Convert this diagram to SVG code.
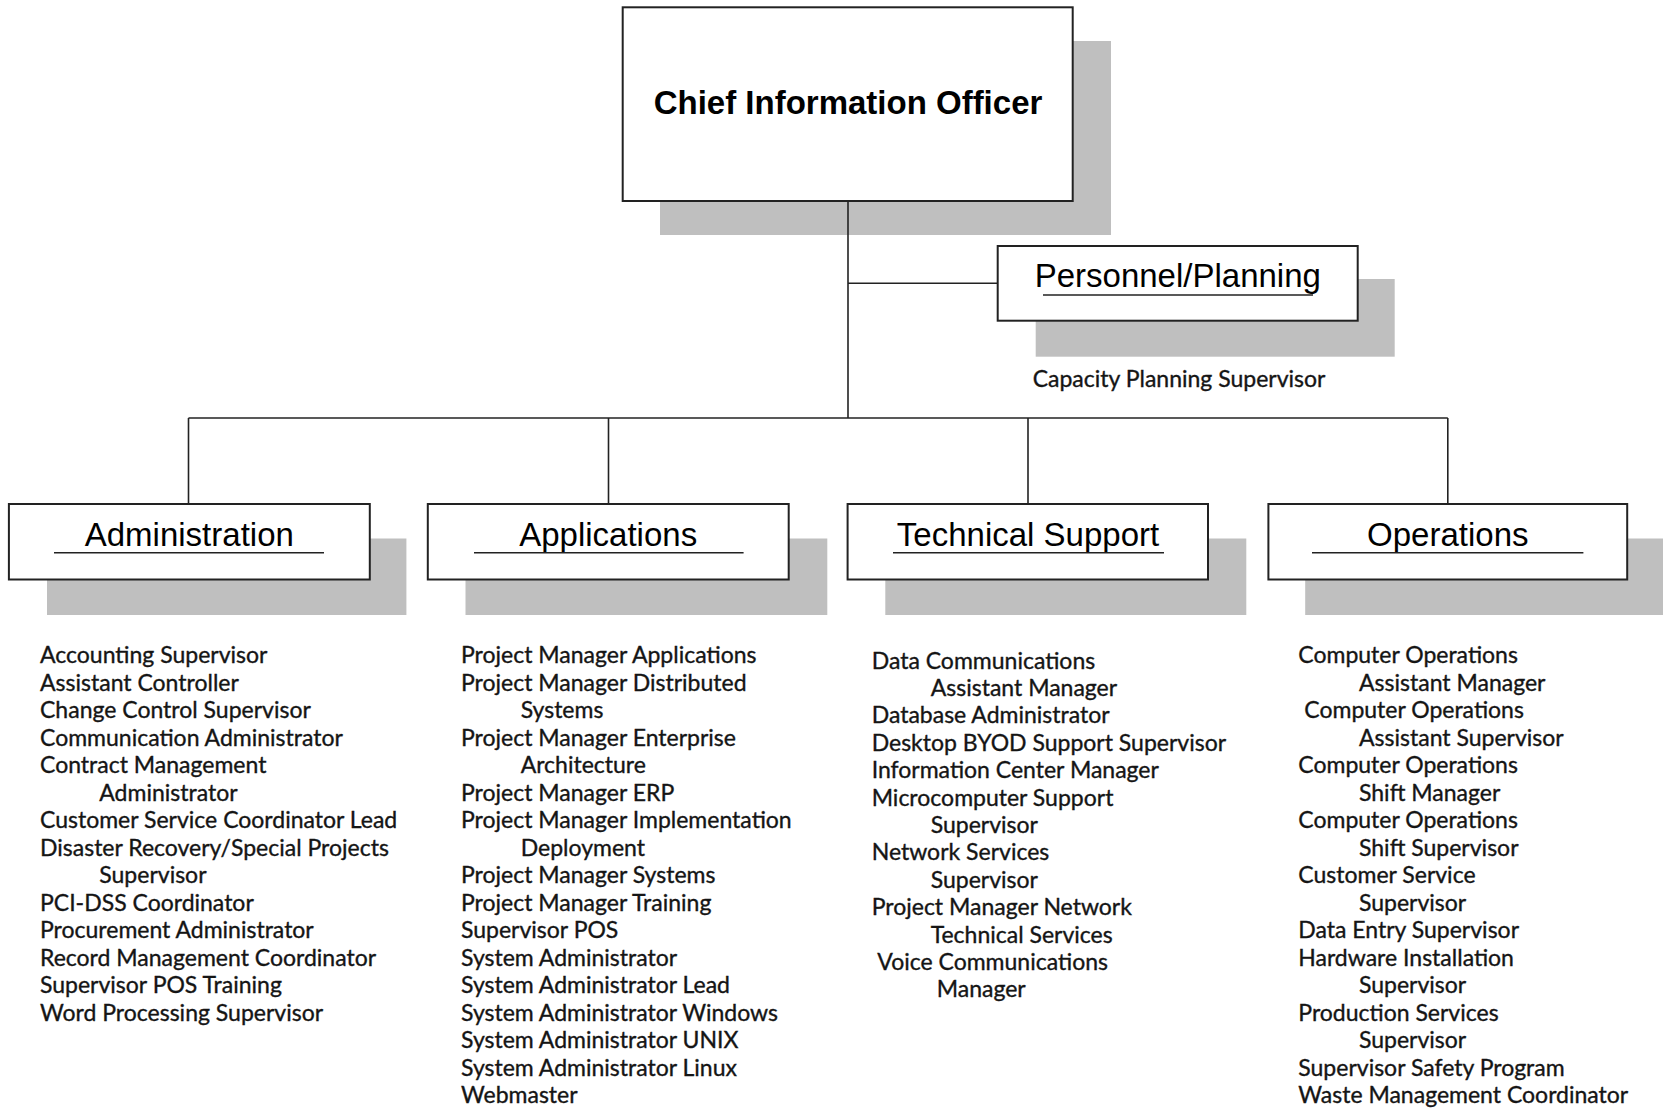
<svg xmlns="http://www.w3.org/2000/svg" width="1663" height="1109" viewBox="0 0 1663 1109">
<style>
.shadow{fill:#bfbfbf;stroke:none}
.box{fill:#ffffff;stroke:#222222;stroke-width:2}
.conn{stroke:#222222;stroke-width:1.6;fill:none}
.ul{stroke:#222222;stroke-width:1.6}
.title{font-family:"Liberation Sans",Arial,sans-serif;font-size:33px;fill:#000000;text-anchor:middle}
.cio{font-family:"Liberation Sans",Arial,sans-serif;font-size:33px;font-weight:bold;fill:#000000;text-anchor:middle}
.list{font-family:Lato,"Liberation Sans",sans-serif;font-size:23px;fill:#151515;stroke:#151515;stroke-width:0.35}
</style>
<rect width="1663" height="1109" fill="#ffffff"/>
<g id="cio">
<rect class="shadow" x="660" y="41" width="451" height="194"/>
<rect class="box" x="622.7" y="7.3" width="450" height="193.7"/>
<text class="cio" x="848" y="114">Chief Information Officer</text>
</g>
<g id="personnel">
<rect class="shadow" x="1035.7" y="279" width="359" height="77.7"/>
<rect class="box" x="997.7" y="246" width="360" height="74.7"/>
<text class="title" x="1177.8" y="286.7">Personnel/Planning</text>
<line class="ul" x1="1043" y1="295" x2="1313" y2="295"/>
<text class="list" x="1032.7" y="386.5">Capacity Planning Supervisor</text>
</g>
<g id="administration">
<rect class="shadow" x="47" y="538.5" width="359.4" height="76.5"/>
<rect class="box" x="8.9" y="504" width="360.9" height="75.5"/>
<text class="title" x="189.3" y="545.7">Administration</text>
<line class="ul" x1="54" y1="552.7" x2="324" y2="552.7"/>
<text class="list" x="40">
<tspan x="40" y="663.3">Accounting Supervisor</tspan>
<tspan x="40" y="690.8">Assistant Controller</tspan>
<tspan x="40" y="718.3">Change Control Supervisor</tspan>
<tspan x="40" y="745.8">Communication Administrator</tspan>
<tspan x="40" y="773.3">Contract Management</tspan>
<tspan x="99.3" y="800.8">Administrator</tspan>
<tspan x="40" y="828.3">Customer Service Coordinator Lead</tspan>
<tspan x="40" y="855.8">Disaster Recovery/Special Projects</tspan>
<tspan x="99.3" y="883.3">Supervisor</tspan>
<tspan x="40" y="910.8">PCI-DSS Coordinator</tspan>
<tspan x="40" y="938.3">Procurement Administrator</tspan>
<tspan x="40" y="965.8">Record Management Coordinator</tspan>
<tspan x="40" y="993.3">Supervisor POS Training</tspan>
<tspan x="40" y="1020.8">Word Processing Supervisor</tspan>
</text>
</g>
<g id="applications">
<rect class="shadow" x="465.5" y="538.5" width="361.8" height="76.5"/>
<rect class="box" x="427.8" y="504" width="360.9" height="75.5"/>
<text class="title" x="608.2" y="545.7">Applications</text>
<line class="ul" x1="474" y1="552.7" x2="743.6" y2="552.7"/>
<text class="list" x="461">
<tspan x="461" y="663.3">Project Manager Applications</tspan>
<tspan x="461" y="690.8">Project Manager Distributed</tspan>
<tspan x="520.7" y="718.3">Systems</tspan>
<tspan x="461" y="745.8">Project Manager Enterprise</tspan>
<tspan x="520.7" y="773.3">Architecture</tspan>
<tspan x="461" y="800.8">Project Manager ERP</tspan>
<tspan x="461" y="828.3">Project Manager Implementation</tspan>
<tspan x="520.7" y="855.8">Deployment</tspan>
<tspan x="461" y="883.3">Project Manager Systems</tspan>
<tspan x="461" y="910.8">Project Manager Training</tspan>
<tspan x="461" y="938.3">Supervisor POS</tspan>
<tspan x="461" y="965.8">System Administrator</tspan>
<tspan x="461" y="993.3">System Administrator Lead</tspan>
<tspan x="461" y="1020.8">System Administrator Windows</tspan>
<tspan x="461" y="1048.3">System Administrator UNIX</tspan>
<tspan x="461" y="1075.8">System Administrator Linux</tspan>
<tspan x="461" y="1103.3">Webmaster</tspan>
</text>
</g>
<g id="technical-support">
<rect class="shadow" x="885.3" y="538.5" width="361" height="76.5"/>
<rect class="box" x="847.6" y="504" width="360.4" height="75.5"/>
<text class="title" x="1028" y="545.7">Technical Support</text>
<line class="ul" x1="893" y1="552.7" x2="1164" y2="552.7"/>
<text class="list" x="871.7">
<tspan x="871.7" y="668.5">Data Communications</tspan>
<tspan x="930.7" y="695.9">Assistant Manager</tspan>
<tspan x="871.7" y="723.3">Database Administrator</tspan>
<tspan x="871.7" y="750.7">Desktop BYOD Support Supervisor</tspan>
<tspan x="871.7" y="778.1">Information Center Manager</tspan>
<tspan x="871.7" y="805.5">Microcomputer Support</tspan>
<tspan x="930.7" y="832.9">Supervisor</tspan>
<tspan x="871.7" y="860.3">Network Services</tspan>
<tspan x="930.7" y="887.7">Supervisor</tspan>
<tspan x="871.7" y="915.1">Project Manager Network</tspan>
<tspan x="930.7" y="942.5">Technical Services</tspan>
<tspan x="877.3" y="969.9">Voice Communications</tspan>
<tspan x="936.7" y="997.3">Manager</tspan>
</text>
</g>
<g id="operations">
<rect class="shadow" x="1305.2" y="538.5" width="360" height="76.5"/>
<rect class="box" x="1268.4" y="504" width="358.8" height="75.5"/>
<text class="title" x="1447.8" y="545.7">Operations</text>
<line class="ul" x1="1312" y1="552.7" x2="1583.4" y2="552.7"/>
<text class="list" x="1298.3">
<tspan x="1298.3" y="663.3">Computer Operations</tspan>
<tspan x="1359" y="690.8">Assistant Manager</tspan>
<tspan x="1304.3" y="718.3">Computer Operations</tspan>
<tspan x="1359" y="745.8">Assistant Supervisor</tspan>
<tspan x="1298.3" y="773.3">Computer Operations</tspan>
<tspan x="1359" y="800.8">Shift Manager</tspan>
<tspan x="1298.3" y="828.3">Computer Operations</tspan>
<tspan x="1359" y="855.8">Shift Supervisor</tspan>
<tspan x="1298.3" y="883.3">Customer Service</tspan>
<tspan x="1359" y="910.8">Supervisor</tspan>
<tspan x="1298.3" y="938.3">Data Entry Supervisor</tspan>
<tspan x="1298.3" y="965.8">Hardware Installation</tspan>
<tspan x="1359" y="993.3">Supervisor</tspan>
<tspan x="1298.3" y="1020.8">Production Services</tspan>
<tspan x="1359" y="1048.3">Supervisor</tspan>
<tspan x="1298.3" y="1075.8">Supervisor Safety Program</tspan>
<tspan x="1298.3" y="1103.3">Waste Management Coordinator</tspan>
</text>
</g>
<g id="connectors">
<line class="conn" x1="848" y1="201" x2="848" y2="418"/>
<line class="conn" x1="848" y1="283.3" x2="997.7" y2="283.3"/>
<line class="conn" x1="188.5" y1="418" x2="1447.8" y2="418"/>
<line class="conn" x1="188.5" y1="418" x2="188.5" y2="504"/>
<line class="conn" x1="608.5" y1="418" x2="608.5" y2="504"/>
<line class="conn" x1="1028" y1="418" x2="1028" y2="504"/>
<line class="conn" x1="1447.8" y1="418" x2="1447.8" y2="504"/>
</g>
</svg>
